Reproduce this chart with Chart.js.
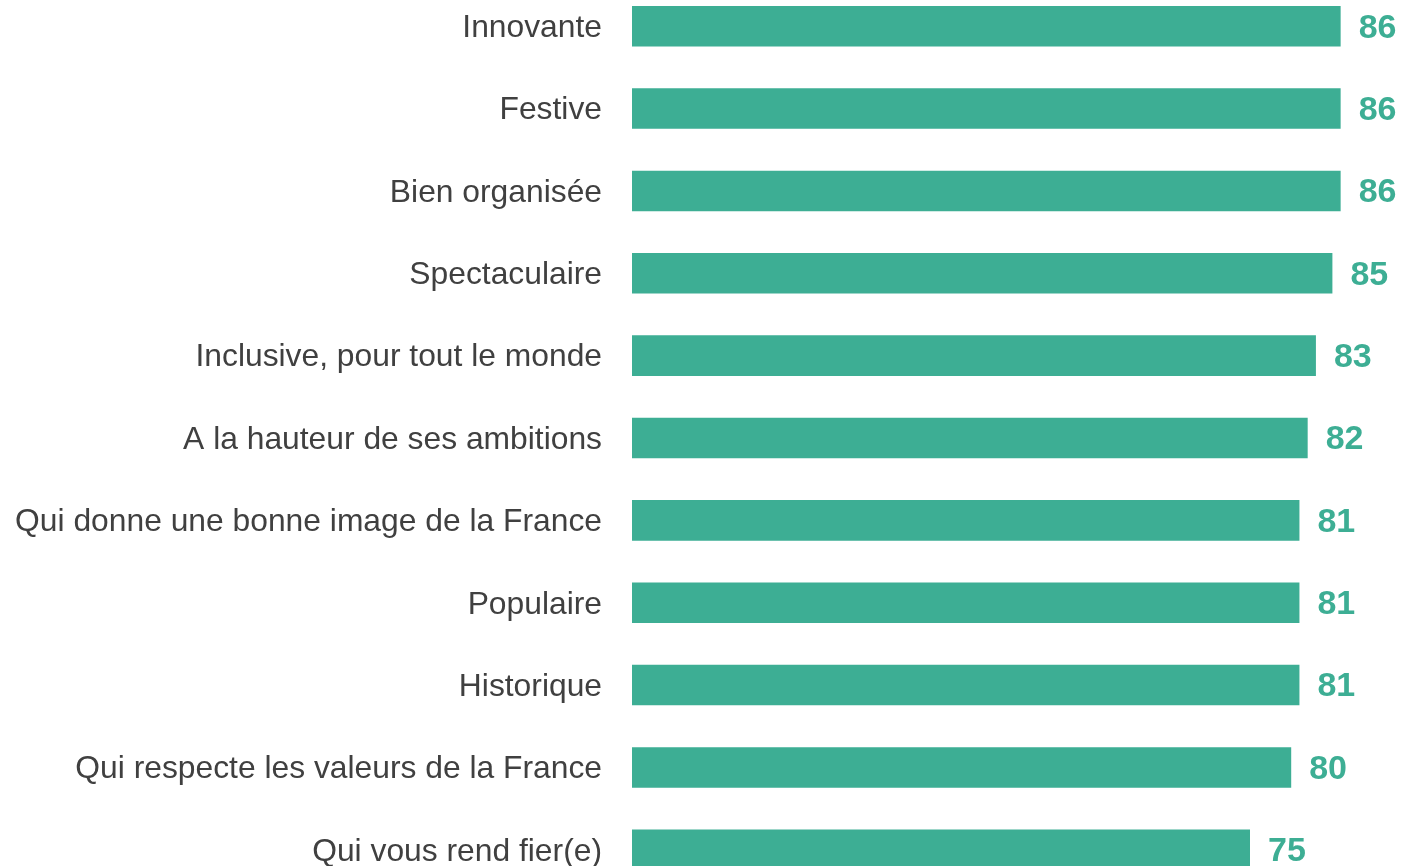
<!DOCTYPE html>
<html lang="fr">
<head>
    <meta charset="UTF-8">
    <title>Image de la cérémonie</title>
    <script src="https://cdn.jsdelivr.net/npm/chart.js"></script>
    <style>
        html, body {
            margin: 0;
            padding: 0;
            background: #ffffff;
            overflow: hidden;
            width: 1404px;
            height: 866px;
        }
        .chart-box {
            position: absolute;
            left: 0;
            top: -15px; /* last bar is cut off at the bottom in the original */
            width: 1456px;
            height: 906px;
        }
    </style>
</head>
<body>
    <div class="chart-box">
        <canvas id="barChart"></canvas>
    </div>

    <script>
        const labels = [
            'Innovante',
            'Festive',
            'Bien organisée',
            'Spectaculaire',
            'Inclusive, pour tout le monde',
            'A la hauteur de ses ambitions',
            'Qui donne une bonne image de la France',
            'Populaire',
            'Historique',
            'Qui respecte les valeurs de la France',
            'Qui vous rend fier(e)'
        ];
        const values = [86, 86, 86, 85, 83, 82, 81, 81, 81, 80, 75];

        const barColor = '#3dae94';
        const fontFamily = '"Liberation Sans", Arial, Helvetica, sans-serif';

        // draws the value next to the end of each bar
        const valueLabels = {
            id: 'valueLabels',
            afterDatasetsDraw(chart) {
                const ctx = chart.ctx;
                const meta = chart.getDatasetMeta(0);
                ctx.save();
                ctx.font = 'bold 34px ' + fontFamily;
                ctx.fillStyle = barColor;
                ctx.textAlign = 'left';
                ctx.textBaseline = 'middle';
                meta.data.forEach((bar, i) => {
                    ctx.fillText(String(values[i]), bar.x + 18, bar.y + 2);
                });
                ctx.restore();
            }
        };

        new Chart(document.getElementById('barChart'), {
            type: 'bar',
            data: {
                labels: labels,
                datasets: [{
                    data: values,
                    backgroundColor: barColor,
                    borderWidth: 0,
                    barPercentage: 0.492,
                    categoryPercentage: 1
                }]
            },
            options: {
                indexAxis: 'y',
                responsive: true,
                maintainAspectRatio: false,
                animation: false,
                layout: { padding: 0 },
                plugins: {
                    legend: { display: false },
                    tooltip: { enabled: false }
                },
                scales: {
                    x: {
                        display: false,
                        min: 0,
                        max: 100
                    },
                    y: {
                        grid: { display: false, drawTicks: false },
                        border: { display: false },
                        ticks: {
                            padding: 30,
                            labelOffset: 2,
                            color: '#404040',
                            font: { family: fontFamily, size: 31.8 }
                        },
                        afterFit(scale) {
                            scale.width = 632;
                            // no extra room above/below the first and last label
                            scale.paddingTop = 0;
                            scale.paddingBottom = 0;
                        }
                    }
                }
            },
            plugins: [valueLabels]
        });
    </script>
</body>
</html>
